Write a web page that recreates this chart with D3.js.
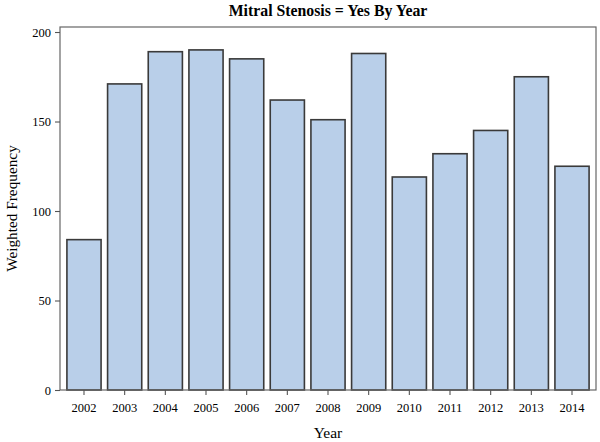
<!DOCTYPE html>
<html>
<head>
<meta charset="utf-8">
<script src="https://cdn.jsdelivr.net/npm/d3@7"></script>
<style>
  body { margin: 0; background: #fff; }
  text { font-family: "Liberation Serif", "Times New Roman", serif; fill: #000; }
</style>
</head>
<body>
<div id="chart"></div>
<script>
const years = ["2002","2003","2004","2005","2006","2007","2008","2009","2010","2011","2012","2013","2014"]
const freq = [84, 171, 189, 190, 185, 162, 151, 188, 119, 132, 145, 175, 125]
const yTicks = [0, 50, 100, 150, 200]

const width = 600
const height = 442
const margin = {top: 27, right: 4, bottom: 52, left: 60}

const svg = d3.select("#chart")
  .append("svg")
    .attr("width", width)
    .attr("height", height)

let x = d3.scaleBand()
  .domain(years)
  .range([margin.left, width - margin.right])
  .paddingInner(0.16)
  .paddingOuter(0.17)

let y = d3.scaleLinear()
  .domain([0, 202.8])
  .range([height - margin.bottom, margin.top])

// bars
svg.selectAll("rect.bar")
  .data(years)
  .enter()
  .append("rect")
    .attr("class", "bar")
    .attr("x", d => x(d))
    .attr("width", x.bandwidth())
    .attr("y", (d, i) => y(freq[i]))
    .attr("height", (d, i) => y(0) - y(freq[i]))
    .attr("fill", "#b9cfe9")
    .attr("stroke", "#3a3a3a")
    .attr("stroke-width", 1.6)

// frame
svg.append("rect")
  .attr("x", margin.left)
  .attr("y", margin.top)
  .attr("width", width - margin.left - margin.right)
  .attr("height", height - margin.top - margin.bottom)
  .attr("fill", "none")
  .attr("stroke", "#666")
  .attr("stroke-width", 1.2)

// axes
let xAxis = svg.append("g")
  .attr("transform", "translate(0," + (height - margin.bottom) + ")")
  .call(d3.axisBottom(x).tickSize(5).tickPadding(8).tickSizeOuter(0))
let yAxis = svg.append("g")
  .attr("transform", "translate(" + margin.left + ",0)")
  .call(d3.axisLeft(y).tickValues(yTicks).tickSize(5).tickPadding(4).tickSizeOuter(0))

;[xAxis, yAxis].forEach(g => {
  g.select(".domain").remove()
  g.selectAll(".tick line").attr("stroke", "#555").attr("stroke-width", 1.1)
  g.selectAll(".tick text")
    .attr("font-size", "12.5px")
    .style("font-family", "'Liberation Serif', serif")
})

// title
svg.append("text")
  .attr("x", (margin.left + width - margin.right) / 2)
  .attr("y", 16)
  .attr("text-anchor", "middle")
  .attr("font-size", "15.8px")
  .attr("font-weight", "bold")
  .text("Mitral Stenosis = Yes By Year")

// axis labels
svg.append("text")
  .attr("x", (margin.left + width - margin.right) / 2)
  .attr("y", 438)
  .attr("text-anchor", "middle")
  .attr("font-size", "15.5px")
  .text("Year")

svg.append("text")
  .attr("transform", "translate(17," + ((margin.top + height - margin.bottom) / 2) + ")rotate(-90)")
  .attr("text-anchor", "middle")
  .attr("font-size", "15.3px")
  .text("Weighted Frequency")
</script>
</body>
</html>
